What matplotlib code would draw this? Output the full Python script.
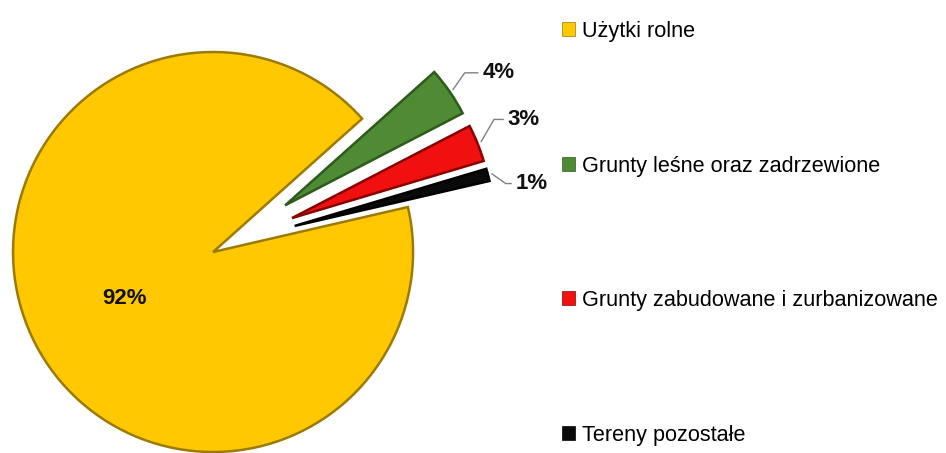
import matplotlib
matplotlib.use("Agg")
import matplotlib.pyplot as plt
import numpy as np

categories = ["Użytki rolne", "Grunty leśne oraz zadrzewione",
              "Grunty zabudowane i zurbanizowane", "Tereny pozostałe"]
values = [92, 4, 3, 1]
pct_labels = ["92%", "4%", "3%", "1%"]

colors = ["#FFC800", "#4F8A34", "#F01010", "#0A0A0A"]
edge_colors = ["#9C7A00", "#2E5A1C", "#8A0000", "#000000"]
explode = [0.1, 0.33, 0.33, 0.33]

plt.rcParams['font.family'] = ['Liberation Sans', 'DejaVu Sans']

fig = plt.figure(figsize=(9.46, 4.53), dpi=100)
ax = fig.add_axes([0, 0, 1, 1])

wedges, _ = ax.pie(values, colors=colors, explode=explode, startangle=13,
                   counterclock=False, radius=1.0,
                   wedgeprops=dict(linewidth=1.8))
for w, ec in zip(wedges, edge_colors):
    w.set_edgecolor(ec)

ax.set_aspect('equal')
W, H = 946, 453
cx, cy, scale = 230.8, 242.8, 200.0
ax.set_xlim(-cx / scale, (W - cx) / scale)
ax.set_ylim(-(H - cy) / scale, cy / scale)
ax.axis('off')

# big slice label inside
w0 = wedges[0]
mid0 = np.deg2rad((w0.theta1 + w0.theta2) / 2)
c0 = w0.center
ax.text(c0[0] + 0.5 * np.cos(mid0), c0[1] + 0.5 * np.sin(mid0), pct_labels[0],
        ha='center', va='center', fontsize=16, fontweight='bold', color='#111111')

# small slices: labels outside with leader lines
offsets = [None, (21, 12), (19, 16), (17, -7)]
conn = [None, "angle,angleA=0,angleB=55", "angle,angleA=0,angleB=60",
        "angle,angleA=0,angleB=-35"]
for i in range(1, 4):
    w = wedges[i]
    mid = np.deg2rad((w.theta1 + w.theta2) / 2)
    c = w.center
    xy = (c[0] + 1.02 * np.cos(mid), c[1] + 1.02 * np.sin(mid))
    ax.annotate(pct_labels[i], xy=xy, xytext=offsets[i], textcoords='offset points',
                ha='left', va='center', fontsize=16, fontweight='bold', color='#111111',
                arrowprops=dict(arrowstyle='-', color='#808080', lw=1.0,
                                connectionstyle=conn[i], shrinkA=1, shrinkB=0))

leg = fig.legend(wedges, categories, loc='upper left',
                 bbox_to_anchor=(562 / W, 1 - 21 / H), frameon=False,
                 fontsize=15.6, handlelength=0.62, handleheight=0.62,
                 handletextpad=0.3, labelspacing=5.24, borderpad=0,
                 borderaxespad=0)
for h in leg.legend_handles:
    h.set_linewidth(0.5)

fig.savefig("out.png", dpi=100)
